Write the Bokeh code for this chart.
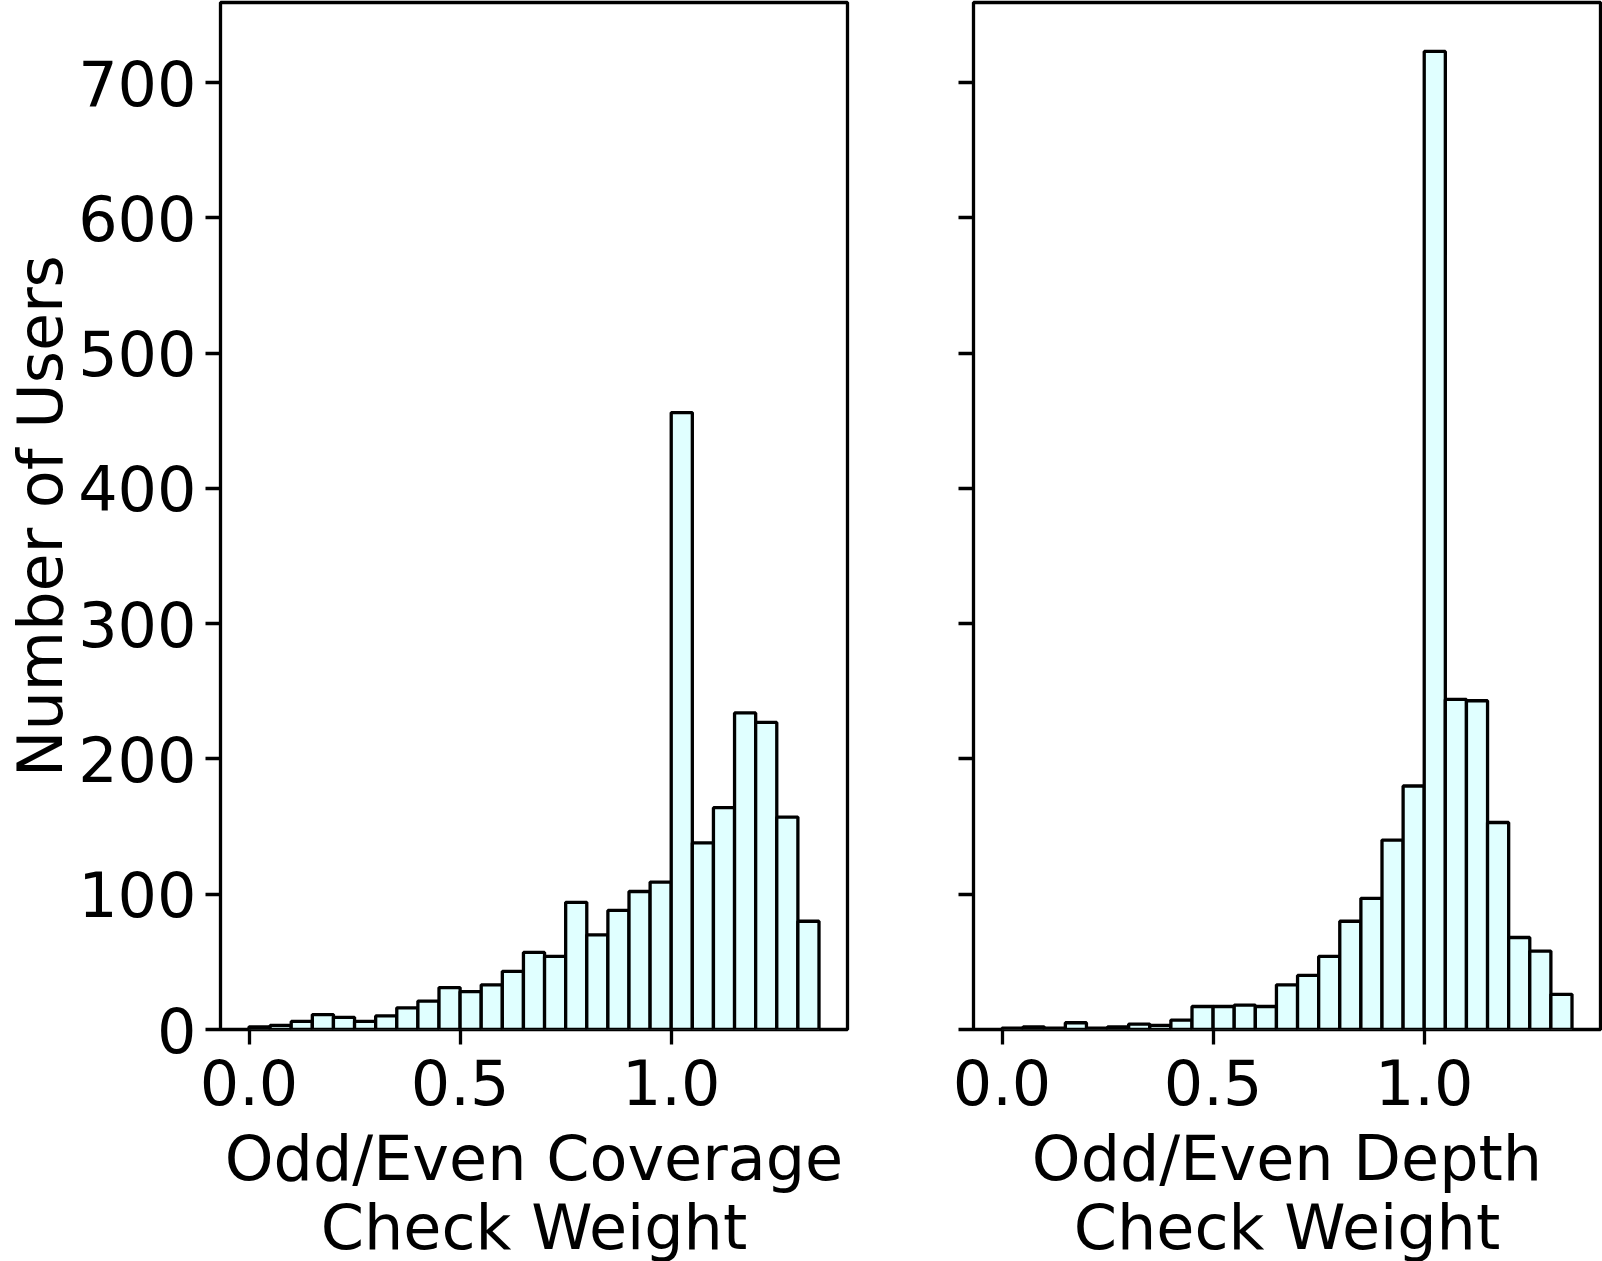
import numpy as np
from bokeh.plotting import figure
from bokeh.models import Range1d, FixedTicker, ColumnDataSource
from bokeh.layouts import row
from bokeh.embed import file_html
from bokeh.resources import INLINE

# ---- data ----
bin_start = 0.0
bin_width = 0.05
coverage_counts = [2, 3, 6, 11, 9, 6, 10, 16, 21, 31, 28, 33, 43, 57, 54,
                   94, 70, 88, 102, 109, 456, 138, 164, 234, 227, 157, 80]
depth_counts = [1, 2, 1, 5, 1, 2, 4, 3, 7, 17, 17, 18, 17, 33, 40,
                54, 80, 97, 140, 180, 723, 244, 243, 153, 68, 58, 26]
x_ticks = [0.0, 0.5, 1.0]
x_tick_labels = ["0.0", "0.5", "1.0"]
y_ticks = [0, 100, 200, 300, 400, 500, 600, 700]
y_label = "Number of Users"
x_labels = ["Odd/Even Coverage\nCheck Weight", "Odd/Even Depth\nCheck Weight"]

FONT = "DejaVu Sans"
FS = "62px"
LW = 3.3

n_bins = len(coverage_counts)
x_lo = bin_start - 0.05 * n_bins * bin_width
x_hi = bin_start + n_bins * bin_width + 0.05 * n_bins * bin_width
y_hi = 1.05 * max(max(coverage_counts), max(depth_counts))


def make_panel(counts, xlabel, with_ylabels, bl, br):
    p = figure(output_backend="svg", toolbar_location=None,
               frame_width=627, frame_height=1027,
               min_border_left=bl, min_border_right=br,
               min_border_top=2, min_border_bottom=232,
               x_range=Range1d(x_lo, x_hi), y_range=Range1d(0, y_hi))
    lefts = bin_start + bin_width * np.arange(len(counts))
    src = ColumnDataSource(dict(left=lefts, right=lefts + bin_width,
                                top=counts, bottom=[0] * len(counts)))
    p.quad(left="left", right="right", top="top", bottom="bottom", source=src,
           fill_color="#e0ffff", line_color="black", line_width=LW)
    p.grid.visible = False
    p.outline_line_color = "black"
    p.outline_line_width = LW
    p.background_fill_color = "white"
    p.border_fill_color = "white"
    for ax in (p.xaxis[0], p.yaxis[0]):
        ax.axis_line_color = None
        ax.major_tick_out = 15
        ax.major_tick_in = 0
        ax.minor_tick_line_color = None
        ax.major_tick_line_width = LW
        ax.major_tick_line_color = "black"
        ax.major_label_text_font = FONT
        ax.major_label_text_font_size = FS
        ax.major_label_text_color = "black"
        ax.axis_label_text_font = FONT
        ax.axis_label_text_font_size = FS
        ax.axis_label_text_font_style = "normal"
        ax.axis_label_text_color = "black"
    p.xaxis.ticker = FixedTicker(ticks=x_ticks)
    p.xaxis.major_label_overrides = {t: l for t, l in zip(x_ticks, x_tick_labels)}
    p.xaxis.major_label_standoff = 14
    p.xaxis.axis_label = xlabel
    p.xaxis.axis_label_standoff = 14
    p.xaxis.axis_label_text_align = "center"
    p.xaxis.axis_label_text_line_height = 0.95
    p.yaxis.ticker = FixedTicker(ticks=y_ticks)
    p.yaxis.major_label_standoff = 9
    if with_ylabels:
        p.yaxis.axis_label = y_label
        p.yaxis.axis_label_standoff = -2
    else:
        p.yaxis.major_label_overrides = {t: "" for t in y_ticks}
    return p


p1 = make_panel(coverage_counts, x_labels[0], True, 220, 33)
p2 = make_panel(depth_counts, x_labels[1], False, 93, 2)
layout = row(p1, p2)

open("out.html", "w").write(file_html(layout, INLINE))
